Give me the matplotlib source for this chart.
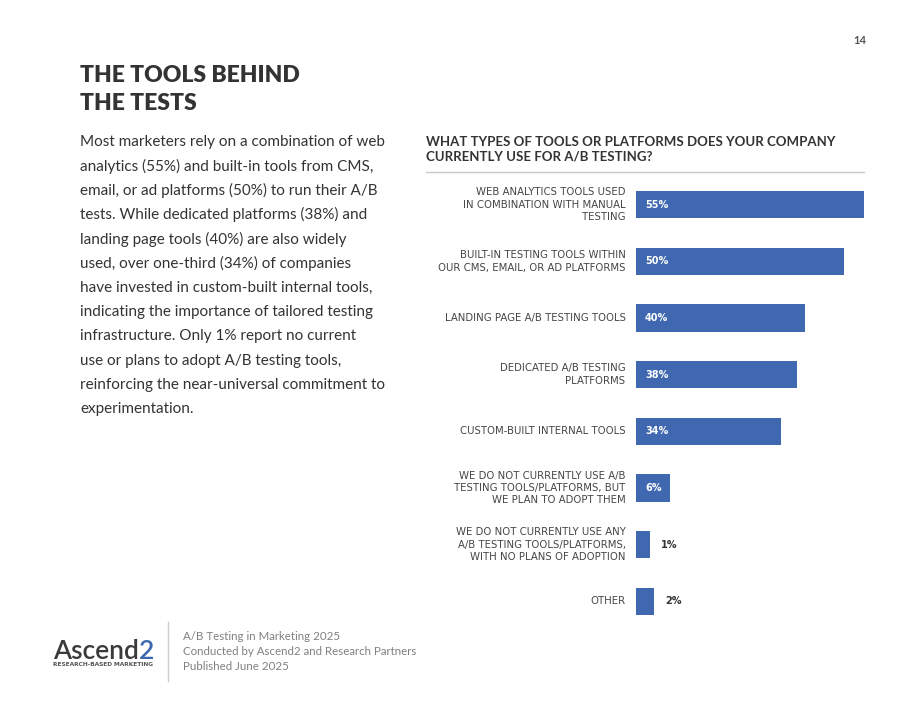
import matplotlib

matplotlib.use("Agg")

import matplotlib.pyplot as plt
import numpy as np


W, H = 920, 711

categories = [
    "WEB ANALYTICS TOOLS USED\nIN COMBINATION WITH MANUAL\nTESTING",
    "BUILT-IN TESTING TOOLS WITHIN\nOUR CMS, EMAIL, OR AD PLATFORMS",
    "LANDING PAGE A/B TESTING TOOLS",
    "DEDICATED A/B TESTING\nPLATFORMS",
    "CUSTOM-BUILT INTERNAL TOOLS",
    "WE DO NOT CURRENTLY USE A/B\nTESTING TOOLS/PLATFORMS, BUT\nWE PLAN TO ADOPT THEM",
    "WE DO NOT CURRENTLY USE ANY\nA/B TESTING TOOLS/PLATFORMS,\nWITH NO PLANS OF ADOPTION",
    "OTHER",
]
values = [55, 50, 40, 38, 34, 6, 1, 2]

title_lines = ["THE TOOLS BEHIND", "THE TESTS"]
body_lines = [
    "Most marketers rely on a combination of web",
    "analytics (55%) and built-in tools from CMS,",
    "email, or ad platforms (50%) to run their A/B",
    "tests. While dedicated platforms (38%) and",
    "landing page tools (40%) are also widely",
    "used, over one-third (34%) of companies",
    "have invested in custom-built internal tools,",
    "indicating the importance of tailored testing",
    "infrastructure. Only 1% report no current",
    "use or plans to adopt A/B testing tools,",
    "reinforcing the near-universal commitment to",
    "experimentation.",
]
chart_title = "WHAT TYPES OF TOOLS OR PLATFORMS DOES YOUR COMPANY\nCURRENTLY USE FOR A/B TESTING?"
footer_lines = [
    "A/B Testing in Marketing 2025",
    "Conducted by Ascend2 and Research Partners",
    "Published June 2025",
]
page_number = "14"
logo_word, logo_digit = "Ascend", "2"
logo_tagline = "RESEARCH-BASED MARKETING"

BAR_COLOR = "#3f68b0"
DARK = "#333333"
LABEL = "#444444"
BASE = -2.5  # bars are drawn from a small offset so tiny values stay visible


def fx(px):
    return px / W


def fy(py):
    return 1 - py / H


fig = plt.figure(figsize=(W / 100, H / 100), dpi=100)
fig.patch.set_facecolor("white")

# page number
fig.text(fx(866), fy(41), page_number, ha="right", va="center", fontsize=8,
         fontweight="bold", color="#555555", family="Lato")

# title
for i, line in enumerate(title_lines):
    fig.text(fx(80), fy(75 + 28 * i), line, ha="left", va="center", fontsize=16.5,
             fontweight="heavy", color=DARK, family="Lato")

# body paragraph
for i, line in enumerate(body_lines):
    fig.text(fx(80), fy(142 + 24.3 * i), line, ha="left", va="center", fontsize=11,
             color=DARK, family="Lato")

# chart title and rule
fig.text(fx(426), fy(149), chart_title, ha="left", va="center", fontsize=9.5,
         fontweight="bold", color=DARK, family="Lato", linespacing=1.3)
fig.add_artist(plt.Line2D([fx(426), fx(864)], [fy(172), fy(172)], color="#c8c8c8", lw=1.0))

# bar chart
ax = fig.add_axes([fx(636), fy(615), fx(228), (615 - 191) / H])
y = np.arange(len(values))
vals = np.array(values, dtype=float)
ax.barh(y, vals - BASE, left=BASE, height=0.485, color=BAR_COLOR)
ax.set_xlim(BASE, 55)
ax.set_ylim(len(values) - 1 + 0.2425, -0.2425)
ax.axis("off")

for yi, (cat, v) in enumerate(zip(categories, values)):
    ax.annotate(cat, xy=(BASE, yi), xytext=(-7.5, 0), textcoords="offset points",
                ha="right", va="center", multialignment="right", fontsize=7.3,
                color=LABEL, linespacing=1.3, annotation_clip=False)
    if v >= 5:
        ax.annotate("%d%%" % v, xy=(BASE, yi), xytext=(6.5, 0), textcoords="offset points",
                    ha="left", va="center", fontsize=7, fontweight="bold", color="white")
    else:
        ax.annotate("%d%%" % v, xy=(v, yi), xytext=(8, 0), textcoords="offset points",
                    ha="left", va="center", fontsize=7, fontweight="bold", color=DARK,
                    annotation_clip=False)

# footer logo
word = fig.text(fx(53), fy(659), logo_word, ha="left", va="baseline", fontsize=19,
                color="#3a3a3a", family="Lato", fontweight="semibold")
fig.canvas.draw()
bb = word.get_window_extent(fig.canvas.get_renderer())
fig.text(bb.x1 / W, fy(659), logo_digit, ha="left", va="baseline", fontsize=19,
         color="#3d68b0", family="Lato", fontweight="semibold")
fig.text(fx(53), fy(665), logo_tagline, ha="left", va="center", fontsize=4.2,
         color="#555555", fontweight="bold")

fig.add_artist(plt.Line2D([fx(168), fx(168)], [fy(622), fy(681)], color="#cccccc", lw=1.0))

for i, line in enumerate(footer_lines):
    fig.text(fx(183), fy(636 + 15.5 * i), line, ha="left", va="center", fontsize=8.3,
             color="#808080", family="Lato")

fig.savefig("out.png", dpi=100)
plt.close(fig)
